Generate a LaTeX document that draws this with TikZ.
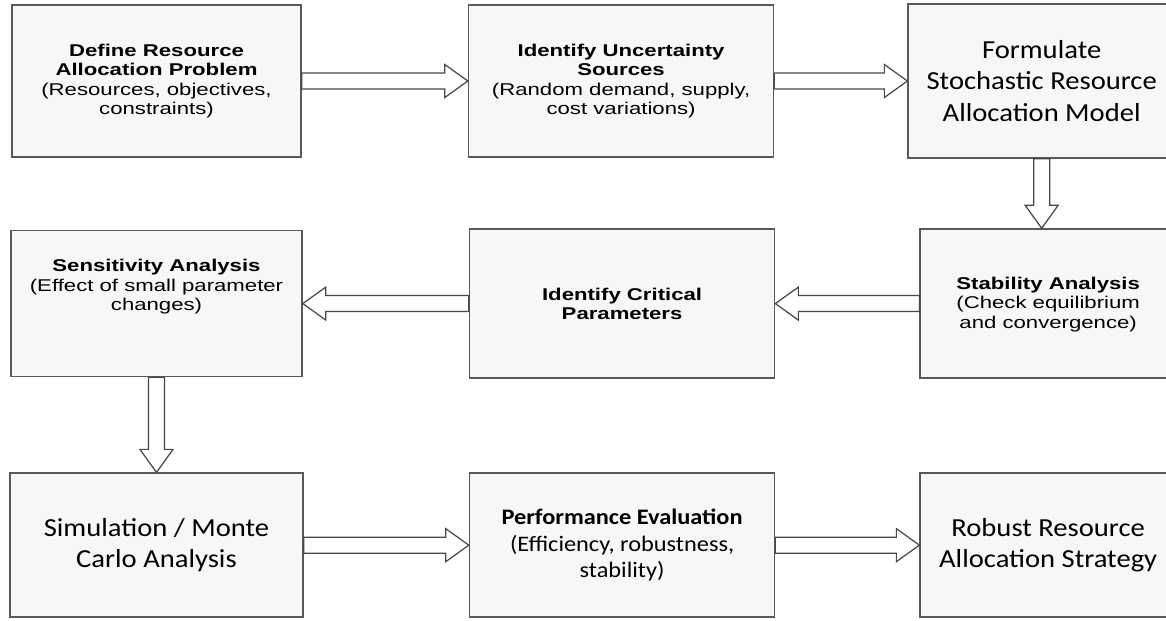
\documentclass[tikz,border=0pt]{standalone}
\usepackage{fontspec}
\setmainfont{Liberation Sans}
\newfontfamily\arialf{Liberation Sans}[FakeStretch=1.3]
\newfontfamily\calif{Carlito}[FakeStretch=1.1]
\usepackage{tikz}
\usetikzlibrary{positioning, calc}

\newcommand{\arrshaft}{0.16cm}
\newcommand{\arrwing}{0.33cm}
\newcommand{\arrhead}{0.46cm}
\newcommand{\hollowarrow}[2]{%
  \coordinate (ha-s) at (#1);
  \coordinate (ha-e) at (#2);
  \coordinate (ha-b) at ($(ha-e)!\arrhead!(ha-s)$);
  \draw[hollow] ($(ha-s)!\arrshaft!90:(ha-e)$) -- ($(ha-b)!\arrshaft!90:(ha-e)$)
    -- ($(ha-b)!\arrwing!90:(ha-e)$) -- (ha-e) -- ($(ha-b)!\arrwing!-90:(ha-e)$)
    -- ($(ha-b)!\arrshaft!-90:(ha-e)$) -- ($(ha-s)!\arrshaft!-90:(ha-e)$) -- cycle;}

\begin{document}
\begin{tikzpicture}[
		stage/.style={
			rectangle,
			draw=black!65,
			line width=0.9pt,
			fill=gray!6,
			align=center,
			inner sep=2pt,
			font=\arialf\fontsize{9.7}{11}\selectfont
		},
		stagec/.style={
			stage,
			font=\calif\fontsize{14.8}{17.8}\selectfont
		},
		hollow/.style={
			draw=black!72,
			line width=0.7pt,
			fill=white
		}
		]
		\useasboundingbox (0,0) rectangle (23.32,-12.4);
		% Nodes
		\node[stage, minimum width=5.78cm, minimum height=3.04cm] (def) at (3.13,-1.62)
		{\textbf{Define Resource}\\\textbf{Allocation Problem}\\(Resources, objectives,\\constraints)};
		\node[stage, minimum width=6.1cm, minimum height=3.04cm, right=3.32cm of def]
		(unc)
		{\textbf{Identify Uncertainty}\\\textbf{Sources}\\(Random demand, supply,\\cost variations)};
		\node[stagec, minimum width=5.34cm, minimum height=3.08cm, right=2.66cm of unc]
		(form)
		{Formulate\\Stochastic Resource\\Allocation Model};
		\node[stage, minimum width=5.82cm, minimum height=2.92cm, below=1.44cm of def]
		(sens)
		{\textbf{Sensitivity Analysis}\\(Effect of small parameter\\changes)\\[0.36cm]\mbox{}};
		\node[stage, minimum width=6.1cm, minimum height=2.98cm, right=3.32cm of sens]
		(crit)
		{\textbf{Identify Critical}\\\textbf{Parameters}};
		\node[stage, minimum width=5.12cm, minimum height=2.98cm, right=2.88cm of crit]
		(stab)
		{\mbox{}\\[-0.1cm]\textbf{Stability Analysis}\\(Check equilibrium\\and convergence)};
		\node[stagec, minimum width=5.86cm, minimum height=2.88cm, below=1.9cm of sens]
		(sim)
		{Simulation / Monte\\Carlo Analysis};
		\node[stage, minimum width=6.1cm, minimum height=2.88cm, right=3.3cm of sim,
		font=\calif\fontsize{12.6}{15}\selectfont]
		(perf)
		{\textbf{Performance Evaluation}\\(Efficiency, robustness,\\stability)};
		\node[stagec, minimum width=5.12cm, minimum height=2.88cm, right=2.88cm of perf]
		(rob)
		{Robust Resource\\Allocation Strategy};
		% Arrows
		\hollowarrow{def.east}{def.east -| unc.west}
		\hollowarrow{unc.east}{unc.east -| form.west}
		\hollowarrow{form.south}{form.south |- stab.north}
		\hollowarrow{stab.west}{stab.west -| crit.east}
		\hollowarrow{crit.west}{crit.west -| sens.east}
		\hollowarrow{sens.south}{sens.south |- sim.north}
		\hollowarrow{sim.east}{sim.east -| perf.west}
		\hollowarrow{perf.east}{perf.east -| rob.west}
	\end{tikzpicture}
\end{document}
